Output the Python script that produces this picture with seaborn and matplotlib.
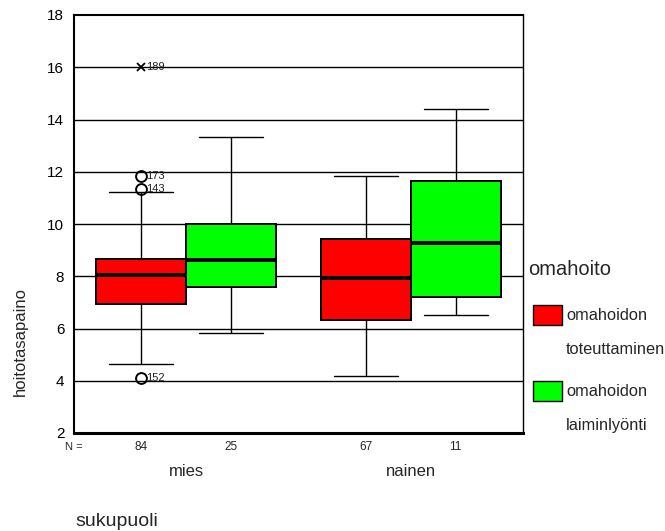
import numpy as np
import pandas as pd
import seaborn as sns
import matplotlib.pyplot as plt
from matplotlib.patches import Patch

# Box summaries (lower whisker, Q1, median, Q3, upper whisker) per group / care status
groups = ["mies", "mies", "nainen", "nainen"]
care = ["omahoidon toteuttaminen", "omahoidon laiminlyönti",
        "omahoidon toteuttaminen", "omahoidon laiminlyönti"]
whisker_low = [4.63, 5.82, 4.18, 6.52]
q1 = [6.92, 7.60, 6.33, 7.22]
median = [8.06, 8.62, 7.92, 9.28]
q3 = [8.65, 9.99, 9.43, 11.66]
whisker_high = [11.21, 13.33, 11.84, 14.41]
n_counts = [84, 25, 67, 11]

# Outlying cases (case number, value, kind)
out_group = ["mies", "mies", "mies", "mies"]
out_care = ["omahoidon toteuttaminen"] * 4
out_value = [16.0, 11.84, 11.33, 4.09]
out_case = ["189", "173", "143", "152"]
out_kind = ["extreme", "outlier", "outlier", "outlier"]

group_order = ["mies", "nainen"]
care_order = ["omahoidon toteuttaminen", "omahoidon laiminlyönti"]
care_lines = [["omahoidon", "toteuttaminen"], ["omahoidon", "laiminlyönti"]]
palette = {"omahoidon toteuttaminen": "#ff0000", "omahoidon laiminlyönti": "#00ff00"}

# Long table: the five summary values of each box; quartiles of five sorted
# values reproduce Q1 / median / Q3 and whiskers span min..max.
rows = []
for g, c, a, b, m, d, e in zip(groups, care, whisker_low, q1, median, q3, whisker_high):
    for v in (a, b, m, d, e):
        rows.append({"sukupuoli": g, "omahoito": c, "hoitotasapaino": v})
df = pd.DataFrame(rows)

sns.set_theme(style="white")
plt.rcParams["font.family"] = ["Liberation Sans", "DejaVu Sans"]

fig = plt.figure(figsize=(6.65, 5.31), dpi=100)
ax = fig.add_axes([74 / 665, 1 - 433 / 531, 449 / 665, 418 / 531])

# horizontal reference lines
for yv in range(4, 18, 2):
    ax.axhline(yv, color="black", lw=1.0, zorder=0)

sns.boxplot(data=df, x="sukupuoli", y="hoitotasapaino", hue="omahoito",
            order=group_order, hue_order=care_order, palette=palette,
            width=0.8, gap=0, whis=(0, 100), saturation=1,
            linecolor="black", linewidth=1.0,
            boxprops=dict(linewidth=1.4, zorder=2),
            medianprops=dict(linewidth=2.8, color="black", zorder=3),
            whiskerprops=dict(linewidth=1.0),
            capprops=dict(linewidth=1.0),
            capwidths=0.286,
            legend=False, ax=ax)

# outlying cases
offsets = {care_order[0]: -0.2, care_order[1]: 0.2}
for g, c, v, case, kind in zip(out_group, out_care, out_value, out_case, out_kind):
    xp = group_order.index(g) + offsets[c]
    if kind == "extreme":
        ax.plot(xp, v, marker="x", ms=6, mew=1.3, color="black", zorder=5)
    else:
        ax.plot(xp, v, marker="o", ms=7.8, mew=1.4, mfc="none", mec="black", zorder=5)
    ax.text(xp + 0.02, v, case, fontsize=8, va="center", ha="left",
            color="#222222", zorder=6)

ax.set_xlim(-0.5, 1.5)
ax.set_ylim(2, 18)
ax.set_yticks(range(2, 19, 2))
ax.set_xticks([0, 1])
ax.set_xticklabels([])
ax.set_xlabel("")
ax.set_ylabel("")
ax.tick_params(axis="y", length=3, width=2, direction="out", labelsize=11, pad=4, colors="black")
ax.tick_params(axis="x", length=3, width=2, direction="out", colors="black")

for side, lw in (("left", 1.5), ("bottom", 2.2), ("top", 1.5), ("right", 1.0)):
    ax.spines[side].set_visible(True)
    ax.spines[side].set_color("black")
    ax.spines[side].set_linewidth(lw)

# case counts and group names under the axis
trans = ax.get_xaxis_transform()
ax.text(-0.5, -0.034, "N =", fontsize=8, ha="center", va="center", transform=trans)
for g, c, n in zip(groups, care, n_counts):
    xp = group_order.index(g) + offsets[c]
    ax.text(xp, -0.034, str(n), fontsize=8.5, ha="center", va="center", transform=trans)
for i, g in enumerate(group_order):
    ax.text(i, -0.093, g, fontsize=12, ha="center", va="center", transform=trans)

fig.text(75 / 665, 1 - 521 / 531, "sukupuoli", fontsize=14, ha="left", va="center")
fig.text(20 / 665, 1 - 342 / 531, "hoitotasapaino", fontsize=12, rotation=90,
         ha="center", va="center")

# legend: title, then one block per care status (swatch on the first text line)
fig.text(528 / 665, 1 - 275 / 531, "omahoito", fontsize=14.5, ha="left", va="baseline")
blank = Patch(facecolor="none", edgecolor="none")
for c, lines, top in zip(care_order, care_lines, (304.5, 380.5)):
    swatch = Patch(facecolor=palette[c], edgecolor="black", linewidth=1.0)
    fig.legend([swatch, blank], lines, loc="upper left",
               bbox_to_anchor=(533 / 665, 1 - top / 531), frameon=False,
               fontsize=11.8, handlelength=1.77, handleheight=1.58,
               handletextpad=0.24, labelspacing=0.8, borderaxespad=0, borderpad=0)

fig.savefig("out.png", dpi=100, facecolor="white")
